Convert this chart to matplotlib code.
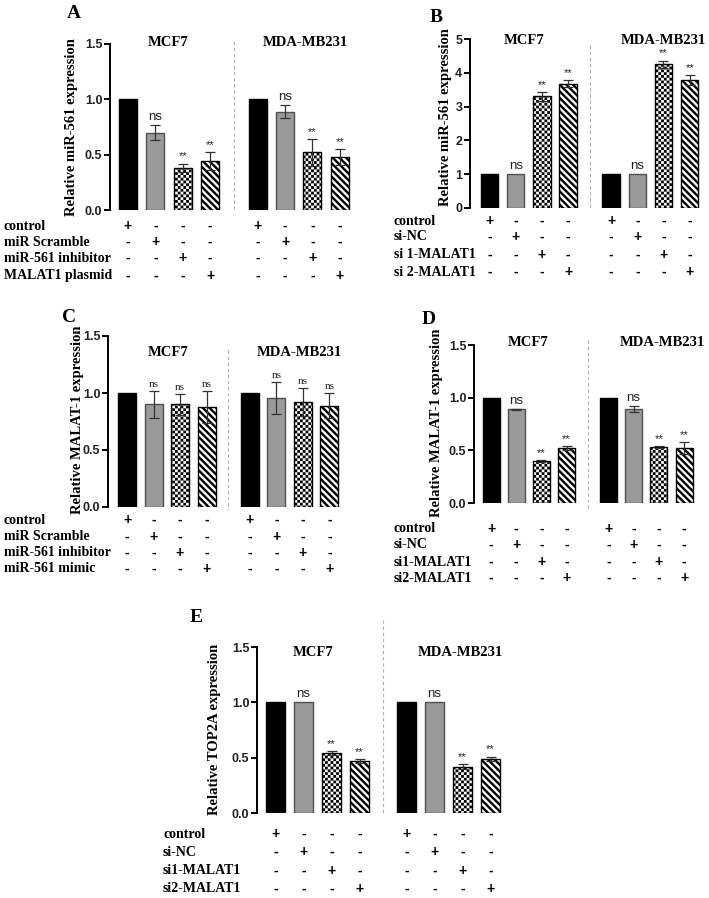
import numpy as np
import matplotlib
matplotlib.use('Agg')
import matplotlib.pyplot as plt
import matplotlib.transforms as mtrans
from matplotlib import hatch as mhatch
from matplotlib.path import Path

plt.rcParams['font.family'] = ['Liberation Sans', 'DejaVu Sans']
plt.rcParams['hatch.linewidth'] = 0.01

W, H, DPI = 709, 898, 100

# ---------------- data ----------------
groups = ['MCF7', 'MDA-MB231']

a_rows = ['control', 'miR Scramble', 'miR-561 inhibitor', 'MALAT1 plasmid']
a_mcf7 = [1.00, 0.70, 0.38, 0.44]
a_mcf7_err = [0.0, 0.07, 0.04, 0.08]
a_mda = [1.00, 0.89, 0.52, 0.48]
a_mda_err = [0.0, 0.06, 0.12, 0.07]
a_sig = ['', 'ns', '**', '**']

b_rows = ['control', 'si-NC', 'si 1-MALAT1', 'si 2-MALAT1']
b_mcf7 = [1.00, 1.00, 3.31, 3.68]
b_mcf7_err = [0.0, 0.0, 0.13, 0.11]
b_mda = [1.00, 1.00, 4.25, 3.79]
b_mda_err = [0.0, 0.0, 0.11, 0.14]
b_sig = ['', 'ns', '**', '**']

c_rows = ['control', 'miR Scramble', 'miR-561 inhibitor', 'miR-561 mimic']
c_mcf7 = [1.00, 0.90, 0.90, 0.88]
c_mcf7_err = [0.0, 0.12, 0.09, 0.14]
c_mda = [1.00, 0.96, 0.92, 0.89]
c_mda_err = [0.0, 0.14, 0.12, 0.11]
c_sig = ['', 'ns', 'ns', 'ns']

d_rows = ['control', 'si-NC', 'si1-MALAT1', 'si2-MALAT1']
d_mcf7 = [1.00, 0.89, 0.40, 0.52]
d_mcf7_err = [0.0, 0.005, 0.01, 0.02]
d_mda = [1.00, 0.89, 0.53, 0.52]
d_mda_err = [0.0, 0.03, 0.01, 0.055]
d_sig = ['', 'ns', '**', '**']

e_rows = ['control', 'si-NC', 'si1-MALAT1', 'si2-MALAT1']
e_mcf7 = [1.00, 1.00, 0.54, 0.47]
e_mcf7_err = [0.0, 0.0, 0.02, 0.015]
e_mda = [1.00, 1.00, 0.42, 0.49]
e_mda_err = [0.0, 0.0, 0.02, 0.02]
e_sig = ['', 'ns', '**', '**']

yticks_15 = [0.0, 0.5, 1.0, 1.5]
yticks_5 = [0, 1, 2, 3, 4, 5]


# ---------------- custom hatches (checkerboard / thick diagonal stripes) ----------------
class CheckerHatch(mhatch.HatchPatternBase):
    def __init__(self, hatch, density):
        self.n = 36 if hatch.count('*') else 0
        if self.n:
            self.cells = [(i, j) for i in range(self.n) for j in range(self.n)
                          if (i + j) % 2 == 0]
            self.num_vertices = len(self.cells) * 5
        else:
            self.num_vertices = 0

    def set_vertices_and_codes(self, vertices, codes):
        s = 1.0 / self.n
        base = np.array([[0, 0], [1, 0], [1, 1], [0, 1], [0, 0]], float) * s
        for k, (i, j) in enumerate(self.cells):
            vertices[k * 5:(k + 1) * 5] = base + [i * s, j * s]
            codes[k * 5] = Path.MOVETO
            codes[k * 5 + 1:k * 5 + 4] = Path.LINETO
            codes[k * 5 + 4] = Path.CLOSEPOLY


class StripeHatch(mhatch.HatchPatternBase):
    def __init__(self, hatch, density):
        self.m = 15 if hatch.count('O') else 0
        if self.m:
            self.ks = list(range(-2, 2 * self.m + 3))
            self.num_vertices = len(self.ks) * 5
        else:
            self.num_vertices = 0

    def set_vertices_and_codes(self, vertices, codes):
        f = 0.5
        for idx, k in enumerate(self.ks):
            c1 = k / self.m
            c2 = (k + f) / self.m
            pts = np.array([(-1, c1 + 1), (2, c1 - 2), (2, c2 - 2),
                            (-1, c2 + 1), (-1, c1 + 1)], float)
            vertices[idx * 5:(idx + 1) * 5] = pts
            codes[idx * 5] = Path.MOVETO
            codes[idx * 5 + 1:idx * 5 + 4] = Path.LINETO
            codes[idx * 5 + 4] = Path.CLOSEPOLY


try:
    _types = mhatch._hatch_types
    _types[:] = [t for t in _types if t not in (mhatch.Stars, mhatch.LargeCircles)]
    _types += [CheckerHatch, StripeHatch]
    HATCH_CHECK, HATCH_STRIPE = '*', 'O'
except Exception:
    HATCH_CHECK, HATCH_STRIPE = '++++', '\\\\\\'

bar_styles = [
    dict(facecolor='black', edgecolor='black', hatch=None),
    dict(facecolor='#9a9a9a', edgecolor='#505050', hatch=None),
    dict(facecolor='white', edgecolor='black', hatch=HATCH_CHECK),
    dict(facecolor='white', edgecolor='black', hatch=HATCH_STRIPE),
]

fig = plt.figure(figsize=(W / DPI, H / DPI), dpi=DPI)


def fx(px):
    return px / W


def fy(py):
    return 1 - py / H


SERIF = ['Liberation Serif', 'DejaVu Serif']


def panel(spec, rows, mcf7, mcf7_err, mda, mda_err, sig, yticks, ylabel, sig_serif=False):
    L, R, T, B = spec['box']
    ax = fig.add_axes([fx(L), fy(B), (R - L) / W, (B - T) / H])
    c0, sp, gap, bw = spec['c0'], spec['sp'], spec['gap'], spec['bw']
    ax.set_xlim((L - c0) / sp, (R - c0) / sp)
    ax.set_ylim(0, yticks[-1])
    width = bw / sp
    pos_all = []
    for gi, (vals, errs) in enumerate([(mcf7, mcf7_err), (mda, mda_err)]):
        xs = np.arange(4) + (gap if gi else 0.0)
        pos_all.append(xs)
        for j in range(4):
            st = bar_styles[j]
            ax.bar(xs[j], vals[j], width=width, facecolor=st['facecolor'],
                   edgecolor=st['edgecolor'], hatch=st['hatch'], linewidth=1.0, zorder=2)
        ev = np.array(errs)
        m = ev > 0
        ax.errorbar(xs[m], np.array(vals)[m], yerr=ev[m], fmt='none', ecolor='#333333',
                    elinewidth=0.9, capsize=3.5, capthick=0.9, zorder=3)
        for j in range(4):
            if sig[j]:
                fam = SERIF if sig_serif else ['Liberation Sans']
                fs = 8 if sig_serif else (9.5 if sig[j] == 'ns' else 8)
                ax.annotate(sig[j], (xs[j], vals[j] + errs[j]), xytext=(0, 1.5),
                            textcoords='offset points', ha='center', va='bottom',
                            fontsize=fs, family=fam, color='#222222', zorder=4)
    # dashed separator
    xm = (3 + gap) / 2
    ax.plot([xm, xm], spec['dash'], ls=(0, (3, 2.5)), color='#b0b0b0', lw=0.8,
            clip_on=False, zorder=1)
    # axes styling
    for s in ['top', 'right', 'bottom']:
        ax.spines[s].set_visible(False)
    ax.spines['left'].set_linewidth(1.4)
    ax.set_xticks([])
    ax.set_yticks(yticks)
    if yticks[-1] > 2:
        ax.set_yticklabels([f'{t:d}' for t in yticks])
    else:
        ax.set_yticklabels([f'{t:.1f}' for t in yticks])
    ax.tick_params(axis='y', length=4, width=1.4, labelsize=9, pad=1.5)
    for lab in ax.get_yticklabels():
        lab.set_fontweight('bold')
        lab.set_color('#222222')
    ax.patch.set_alpha(0)
    # ylabel
    fig.text(fx(spec['ylab'][0]), fy(spec['ylab'][1]), ylabel, rotation=90,
             ha='center', va='center', fontsize=10.5, fontweight='bold', family=SERIF)
    # group titles
    for g, (tx, ty) in zip(groups, spec['titles']):
        fig.text(fx(tx), fy(ty), g, ha='center', va='center', fontsize=10.5,
                 fontweight='bold', family=SERIF)
    # panel letter
    fig.text(fx(spec['letter'][1]), fy(spec['letter'][2]), spec['letter'][0],
             ha='center', va='center', fontsize=14, fontweight='bold', family=SERIF)
    # treatment table
    trans = mtrans.blended_transform_factory(ax.transData, fig.transFigure)
    for i, (rname, ry) in enumerate(zip(rows, spec['rows_y'])):
        fig.text(fx(spec['rows_x']), fy(ry), rname, ha='left', va='center',
                 fontsize=10, fontweight='bold', family=SERIF)
        for xs in pos_all:
            for j in range(4):
                sym = '+' if i == j else '-'
                ax.text(xs[j], fy(ry), sym, transform=trans, ha='center', va='center',
                        fontsize=10, fontweight='bold', clip_on=False)
    return ax


spec_a = dict(box=(110, 352, 44, 210), c0=128, sp=27.4, gap=4.73, bw=18,
              ylab=(72, 127), titles=[(168, 43), (305, 43)], letter=('A', 74, 14),
              rows_x=4, rows_y=[226, 242, 258, 276], dash=(1.527, 0))
spec_b = dict(box=(470, 703, 39, 208), c0=489.5, sp=26.2, gap=4.64, bw=17.5,
              ylab=(445, 117), titles=[(524, 40), (663, 40)], letter=('B', 436, 18),
              rows_x=394, rows_y=[221, 237, 255, 272], dash=(4.82, 0))
spec_c = dict(box=(108, 345, 336, 507), c0=127, sp=26.5, gap=4.64, bw=18,
              ylab=(77, 420), titles=[(168, 353), (299, 353)], letter=('C', 69, 317),
              rows_x=4, rows_y=[520, 537, 553, 569], dash=(1.377, -0.026))
spec_d = dict(box=(474, 697, 345, 503), c0=491, sp=25.2, gap=4.66, bw=17,
              ylab=(436, 423), titles=[(528, 342), (662, 342)], letter=('D', 429, 319),
              rows_x=394, rows_y=[529, 545, 562, 578], dash=(1.547, -0.047))
spec_e = dict(box=(257, 505, 647, 813), c0=275.5, sp=28, gap=4.68, bw=19,
              ylab=(215, 729), titles=[(313, 653), (460, 653)], letter=('E', 196, 617),
              rows_x=163, rows_y=[834, 852, 871, 889], dash=(1.744, -0.018))

panel(spec_a, a_rows, a_mcf7, a_mcf7_err, a_mda, a_mda_err, a_sig, yticks_15,
      'Relative miR-561 expression')
panel(spec_b, b_rows, b_mcf7, b_mcf7_err, b_mda, b_mda_err, b_sig, yticks_5,
      'Relative miR-561 expression')
panel(spec_c, c_rows, c_mcf7, c_mcf7_err, c_mda, c_mda_err, c_sig, yticks_15,
      'Relative MALAT-1 expression', sig_serif=True)
panel(spec_d, d_rows, d_mcf7, d_mcf7_err, d_mda, d_mda_err, d_sig, yticks_15,
      'Relative MALAT-1 expression')
panel(spec_e, e_rows, e_mcf7, e_mcf7_err, e_mda, e_mda_err, e_sig, yticks_15,
      'Relative TOP2A expression')

fig.savefig('out.png', dpi=DPI)
